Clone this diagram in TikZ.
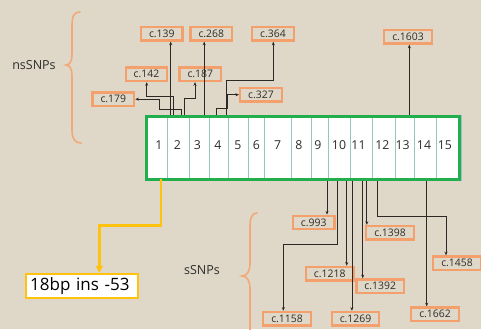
\documentclass[tikz,border=0pt]{standalone}
\usepackage{fontspec}
\setmainfont{Open Sans}
\usetikzlibrary{arrows.meta}
\definecolor{bgc}{RGB}{223,215,199}
\definecolor{orng}{RGB}{244,160,108}
\definecolor{brc}{RGB}{242,168,120}
\definecolor{grn}{RGB}{34,174,76}
\definecolor{ylw}{RGB}{255,194,14}
\definecolor{linec}{RGB}{45,40,38}
\definecolor{txtc}{RGB}{45,45,45}
\definecolor{divc}{RGB}{150,196,190}
\tikzset{
  lab/.style={draw=orng, line width=2.4pt, inner xsep=8pt, inner ysep=0pt, minimum height=13.5pt,
              text=txtc, font=\fontsize{10.4}{12}\selectfont},
  arr/.style={draw=linec, line width=0.7pt, -{Stealth[length=3.6pt,width=3pt]}},
  cell/.style={draw=divc, line width=0.5pt, fill=white, minimum height=65pt, inner sep=0pt},
  num/.style={text=txtc, font=\fontsize{12.3}{14}\selectfont, inner sep=0pt},
  bracestyle/.style={draw=brc, line width=1.6pt, line cap=round},
  grp/.style={text=txtc, font=\fontsize{12.5}{14}\selectfont},
  yarr/.style={draw=ylw, line width=2.5pt, -{Triangle[length=7pt,width=7.5pt,line width=0pt,fill=ylw]}},
}
\begin{document}
\begin{tikzpicture}[x=1pt,y=-1pt]
\useasboundingbox (0,0) rectangle (481,329);
\fill[bgc] (0,0) rectangle (481,329);

% group labels and braces
\node[grp] (ns) at (34,65) {nsSNPs};
\node[grp] (ss) at (202,270) {sSNPs};
\draw[bracestyle] (80,12) .. controls (74,12) and (72,16) .. (72,26) -- (72,54)
  .. controls (72,61) and (70,65) .. (66,65)
  .. controls (70,65) and (72,69) .. (72,76) -- (72,130)
  .. controls (72,139) and (75,143) .. (81,143);
\draw[bracestyle] (257,213) .. controls (252,213) and (250,218) .. (250,226) -- (250,264)
  .. controls (250,271) and (247,276) .. (242,276)
  .. controls (247,276) and (250,281) .. (250,288) -- (250,340);

% labels
\node[lab] (l139) at (161.8,33.7) {c.139};
\node[lab] (l268) at (211.3,33.7) {c.268};
\node[lab] (l364) at (273,33.8) {c.364};
\node[lab] (l142) at (146.5,74.2) {c.142};
\node[lab] (l187) at (200.3,74.2) {c.187};
\node[lab] (l179) at (113.3,99.2) {c.179};
\node[lab] (l327) at (261,94.7) {c.327};
\node[lab] (l1603) at (408,36.7) {c.1603};
\node[lab] (l993) at (313.7,222.5) {c.993};
\node[lab] (l1158) at (287,318.7) {c.1158};
\node[lab] (l1218) at (329.7,273.7) {c.1218};
\node[lab] (l1269) at (355.5,318.7) {c.1269};
\node[lab] (l1392) at (380.2,286.2) {c.1392};
\node[lab] (l1398) at (390,232.8) {c.1398};
\node[lab] (l1458) at (457,263.3) {c.1458};
\node[lab] (l1662) at (435,314.3) {c.1662};

% main box (name for connector ends)
\path (303,148) node[minimum width=313pt, minimum height=62.4pt, inner sep=0pt] (box) {};

% top connectors
\draw[arr] (170.7,0 |- box.north) -- (170.7,0 |- l139.south);
\draw[arr] (173.2,0 |- box.north) -- (173.2,96.6) -- (146.7,96.6) -- (146.7,0 |- l142.south);
\draw[arr] (181.7,0 |- box.north) -- (181.7,109.4) -- (159.3,109.4) -- (159.3,0 |- l179.east) -- (l179.east);
\draw[arr] (184.4,0 |- box.north) -- (184.4,98.3) -- (195,98.3) -- (195,0 |- l187.south);
\draw[arr] (204.2,0 |- box.north) -- (204.2,0 |- l268.south);
\draw[arr] (216,0 |- box.north) -- (216,108.3) -- (227.6,108.3) -- (227.6,0 |- l327.west) -- (l327.west);
\draw[arr] (226,0 |- box.north) -- (226,80) -- (273.3,80) -- (273.3,0 |- l364.south);
\draw[arr] (409.3,0 |- box.north) -- (409.3,0 |- l1603.south);

% bottom connectors
\draw[arr] (327,0 |- box.south) -- (327,0 |- l993.north);
\draw[arr] (337.5,0 |- box.south) -- (337.5,244) -- (283.3,244) -- (283.3,0 |- l1158.north);
\draw[arr] (346.7,0 |- box.south) -- (346.7,0 |- l1218.north);
\draw[arr] (351.9,0 |- box.south) -- (351.9,0 |- l1269.north);
\draw[arr] (362.7,0 |- box.south) -- (362.7,0 |- l1392.north);
\draw[arr] (366.8,0 |- box.south) -- (366.8,0 |- l1398.north);
\draw[arr] (377.3,0 |- box.south) -- (377.3,216) -- (446,216) -- (446,0 |- l1458.north);
\draw[arr] (426.7,0 |- box.south) -- (426.7,0 |- l1662.north);

% cells
\foreach \l/\r/\t/\nx in {145/167.3/1/159, 167.3/189.3/2/177.5, 189.3/209.3/3/197.5, 209.3/228.3/4/217.8,
  228.3/248.3/5/237.8, 248.3/264.3/6/256.5, 264.3/291/7/277.7, 291/311/8/298.8, 311/328.3/9/317.8,
  328.3/350.7/10/339, 350.7/372.3/11/358.5, 372.3/395/12/382.4, 395/414/13/402.7, 414/436.7/14/424,
  436.7/461/15/444.8}{
  \node[cell, minimum width={(\r-\l)*1pt}] (c\t) at ({(\l+\r)/2},148) {};
  \node[num] (n\t) at (\nx,144.7) {\t};
}
\draw[grn, line width=3pt] (box.north west) rectangle (box.south east);

% insertion
\node[draw=ylw, line width=2.5pt, fill=white, text width=104pt, inner xsep=4pt, inner ysep=0pt,
      minimum height=24pt, align=left, text=black, font=\fontsize{17}{19}\selectfont] (ins) at (82.2,286) {18bp ins -53};
\draw[yarr] (161,0 |- box.south) -- (161,225.7) -- (99.3,225.7) -- (99.3,0 |- ins.north);
\end{tikzpicture}
\end{document}
